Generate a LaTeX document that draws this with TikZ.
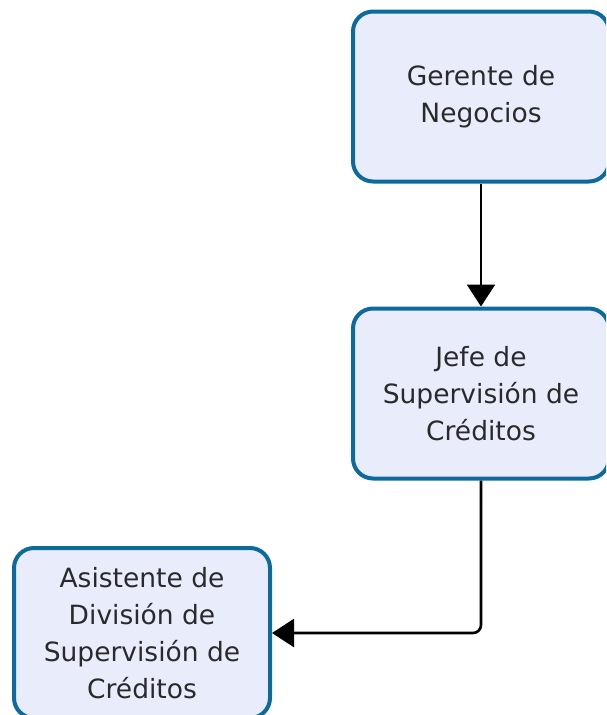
\documentclass[tikz,border=0pt]{standalone}
\usepackage{fontspec}
\setmainfont{DejaVu Sans}
\usepackage{tikz}
\usetikzlibrary{arrows.meta,positioning}
\definecolor{orgblue}{HTML}{0D6A9C}
\definecolor{orgfill}{HTML}{E9EDFB}
\definecolor{orgtext}{HTML}{2A2A2A}
\tikzset{
  orgbox/.style={draw=orgblue, fill=orgfill, line width=4pt, rounded corners=20pt,
    align=center, text=orgtext, font=\fontsize{26.5}{37}\selectfont,
    minimum width=256pt, minimum height=170pt, inner sep=0pt},
  orgarrow/.style={-{Triangle[length=22pt,width=28pt]}, line width=2.6pt, draw=black}
}
\begin{document}
\begin{tikzpicture}[x=1pt,y=-1pt]
  \useasboundingbox (0,0) rectangle (606,715);
  \clip (0,0) rectangle (606,715);
  \node[orgbox] (gerente) at (481,96.5) {Gerente de\\Negocios};
  \node[orgbox, below=123pt of gerente] (jefe) {Jefe de\\Supervisión de\\Créditos};
  \node[orgbox] (asist) at (142,633) {Asistente de\\División de\\Supervisión de\\Créditos};
  \draw[orgarrow] (gerente) -- (jefe);
  \draw[orgarrow, rounded corners=8pt] (jefe.south) |- (asist.east);
\end{tikzpicture}
\end{document}
